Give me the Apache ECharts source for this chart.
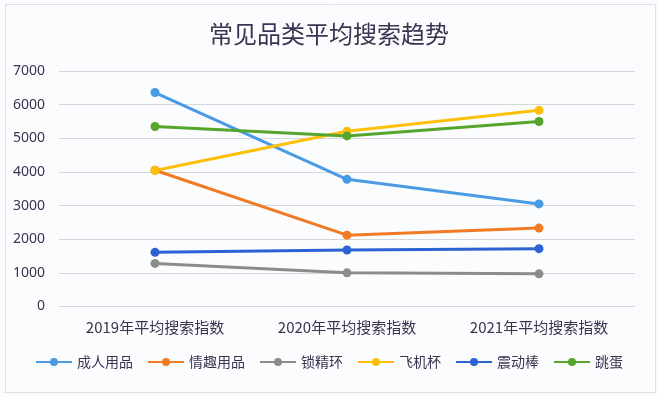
<!DOCTYPE html>
<html><head><meta charset="utf-8">
<script src="https://cdn.jsdelivr.net/npm/echarts@6/dist/echarts.min.js"></script>
<style>html,body{margin:0;padding:0;background:#fff}#c{width:658px;height:396px}</style>
</head><body><div id="c"></div>
<script>
const categories = ['2019年平均搜索指数', '2020年平均搜索指数', '2021年平均搜索指数'];
const seriesNames = ['成人用品', '情趣用品', '锁精环', '飞机杯', '震动棒', '跳蛋'];
const s_chengren = [6360, 3780, 3050];
const s_qingqu = [4050, 2120, 2330];
const s_suojinghuan = [1280, 1000, 970];
const s_feijibei = [4040, 5210, 5830];
const s_zhendongbang = [1610, 1680, 1720];
const s_tiaodan = [5350, 5070, 5500];
const yTicks = [0, 1000, 2000, 3000, 4000, 5000, 6000, 7000];
const colors = ['#4a9be3', '#f07b24', '#8c8c8c', '#fdc008', '#2d62d2', '#56a52d'];
const values = [s_chengren, s_qingqu, s_suojinghuan, s_feijibei, s_zhendongbang, s_tiaodan];

const chart = echarts.init(document.getElementById('c'));
chart.setOption({
  backgroundColor: '#fbfcfe',
  animation: false,
  color: colors,
  graphic: [{
    type: 'rect', left: 3, top: 2, shape: {width: 650, height: 388},
    style: {fill: 'none', stroke: '#dcdfe6', lineWidth: 1}, silent: true
  }],
  title: {
    text: '常见品类平均搜索趋势', left: 'center', top: 17,
    textStyle: {fontFamily: 'Noto Sans CJK SC', fontSize: 24, fontWeight: 'normal', color: '#3d3350'}
  },
  legend: {
    bottom: 22, left: 'center', itemWidth: 36, itemHeight: 10, itemGap: 14,
    textStyle: {fontFamily: 'Noto Sans CJK SC', fontSize: 14, color: '#3d3350'},
    data: seriesNames
  },
  grid: {left: 59, right: 23, top: 71, bottom: 89.5},
  xAxis: {
    type: 'category', data: categories, boundaryGap: true,
    axisLine: {show: false}, axisTick: {show: false},
    axisLabel: {fontFamily: 'Noto Sans CJK SC', fontSize: 15, color: '#3d3350', margin: 13}
  },
  yAxis: {
    type: 'value', min: yTicks[0], max: yTicks[yTicks.length - 1], interval: 1000,
    axisLine: {show: false}, axisTick: {show: false},
    splitLine: {lineStyle: {color: '#d4d6dc', width: 1}},
    axisLabel: {fontFamily: 'Noto Sans', fontSize: 14, color: '#3d3350', margin: 14,
      formatter: v => String(v)}
  },
  series: seriesNames.map((n, i) => ({
    name: n, type: 'line', data: values[i],
    symbol: 'circle', symbolSize: 9,
    lineStyle: {width: 3, color: colors[i]},
    itemStyle: {color: colors[i]}
  }))
});
</script></body></html>
